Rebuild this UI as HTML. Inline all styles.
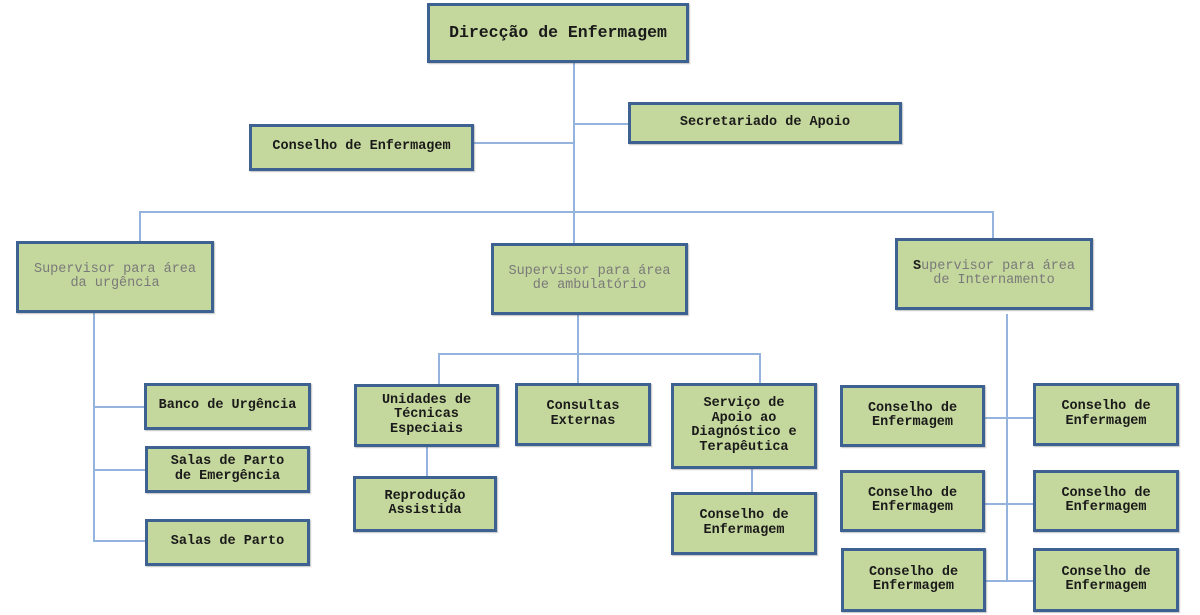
<!DOCTYPE html>
<html>
<head>
<meta charset="utf-8">
<style>
  html,body{margin:0;padding:0;background:#fff;}
  body{width:1200px;height:615px;position:relative;overflow:hidden;}
  .b{position:absolute;box-sizing:border-box;background:#c4d79c;border:3px solid #3d6190;
     box-shadow:1px 1px 1px rgba(80,80,80,0.35);
     display:flex;align-items:center;justify-content:center;text-align:center;
     font-family:"Liberation Mono",monospace;font-weight:bold;font-size:13.5px;line-height:14.5px;color:#1a1a1a;}
  .s{font-weight:normal;color:#7a7a7a;}
  .l{position:absolute;background:#94b4de;}
  .h{height:2px;}
  .v{width:2px;}
</style>
</head>
<body>
<!-- connectors -->
<div class="l v" style="left:573px;top:63px;height:180px;"></div>
<div class="l h" style="left:574px;top:123px;width:55px;"></div>
<div class="l h" style="left:474px;top:142px;width:100px;"></div>
<div class="l h" style="left:140px;top:211px;width:854px;"></div>
<div class="l v" style="left:139px;top:211px;height:31px;"></div>
<div class="l v" style="left:992px;top:211px;height:28px;"></div>

<div class="l v" style="left:93px;top:313px;height:229px;"></div>
<div class="l h" style="left:93px;top:406px;width:52px;"></div>
<div class="l h" style="left:93px;top:469px;width:53px;"></div>
<div class="l h" style="left:93px;top:540px;width:53px;"></div>

<div class="l v" style="left:577px;top:315px;height:69px;"></div>
<div class="l h" style="left:438px;top:353px;width:323px;"></div>
<div class="l v" style="left:438px;top:353px;height:32px;"></div>
<div class="l v" style="left:759px;top:353px;height:31px;"></div>
<div class="l v" style="left:426px;top:447px;height:30px;"></div>
<div class="l v" style="left:751px;top:469px;height:24px;"></div>

<div class="l v" style="left:1006px;top:314px;height:268px;"></div>
<div class="l h" style="left:985px;top:417px;width:49px;"></div>
<div class="l h" style="left:985px;top:503px;width:49px;"></div>
<div class="l h" style="left:985px;top:580px;width:49px;"></div>

<!-- boxes -->
<div class="b" style="left:427px;top:3px;width:262px;height:60px;font-size:16.5px;">Direcção de Enfermagem</div>
<div class="b" style="left:249px;top:124px;width:225px;height:47px;">Conselho de Enfermagem</div>
<div class="b" style="left:628px;top:102px;width:274px;height:42px;">Secretariado de Apoio</div>

<div class="b s" style="left:16px;top:241px;width:198px;height:72px;">Supervisor para área<br>da urgência</div>
<div class="b s" style="left:491px;top:243px;width:197px;height:72px;">Supervisor para área<br>de ambulatório</div>
<div class="b s" style="left:895px;top:238px;width:198px;height:72px;"><span><b style="color:#1a1a1a;">S</b>upervisor para área<br>de Internamento</span></div>

<div class="b" style="left:144px;top:383px;width:167px;height:47px;">Banco de Urgência</div>
<div class="b" style="left:145px;top:446px;width:165px;height:47px;">Salas de Parto<br>de Emergência</div>
<div class="b" style="left:145px;top:519px;width:165px;height:47px;">Salas de Parto</div>

<div class="b" style="left:354px;top:384px;width:145px;height:63px;">Unidades de<br>Técnicas<br>Especiais</div>
<div class="b" style="left:515px;top:383px;width:136px;height:63px;">Consultas<br>Externas</div>
<div class="b" style="left:671px;top:383px;width:146px;height:86px;">Serviço de<br>Apoio ao<br>Diagnóstico e<br>Terapêutica</div>
<div class="b" style="left:353px;top:476px;width:144px;height:56px;">Reprodução<br>Assistida</div>
<div class="b" style="left:671px;top:492px;width:146px;height:63px;">Conselho de<br>Enfermagem</div>

<div class="b" style="left:840px;top:385px;width:145px;height:62px;">Conselho de<br>Enfermagem</div>
<div class="b" style="left:840px;top:470px;width:145px;height:62px;">Conselho de<br>Enfermagem</div>
<div class="b" style="left:841px;top:548px;width:145px;height:64px;">Conselho de<br>Enfermagem</div>
<div class="b" style="left:1033px;top:383px;width:146px;height:63px;">Conselho de<br>Enfermagem</div>
<div class="b" style="left:1033px;top:470px;width:146px;height:62px;">Conselho de<br>Enfermagem</div>
<div class="b" style="left:1033px;top:548px;width:146px;height:64px;">Conselho de<br>Enfermagem</div>
</body>
</html>
